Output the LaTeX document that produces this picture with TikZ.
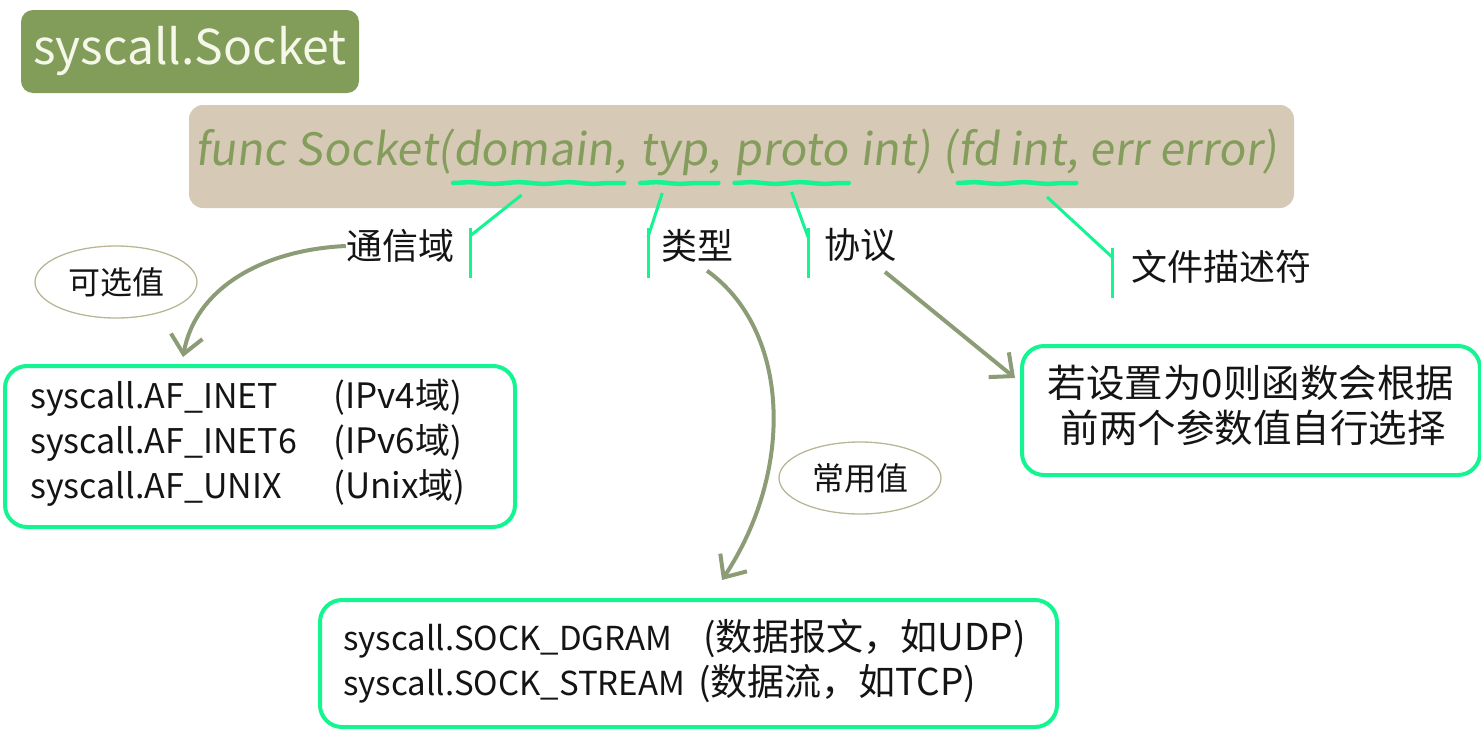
\documentclass[tikz,border=0pt]{standalone}
\usepackage{fontspec}
\newfontfamily\cjk{Noto Sans CJK SC}
\newfontfamily\cjksl[FakeSlant=0.12]{Noto Sans CJK SC}
\usetikzlibrary{arrows.meta,decorations.pathmorphing,calc,shapes.geometric}
\definecolor{titlefill}{RGB}{130,157,90}
\definecolor{titletext}{RGB}{245,248,232}
\definecolor{sigfill}{RGB}{214,201,181}
\definecolor{sigtext}{RGB}{132,157,92}
\definecolor{brightg}{RGB}{20,245,145}
\definecolor{arrowc}{RGB}{140,156,118}
\definecolor{ellc}{RGB}{185,182,150}
\definecolor{ink}{RGB}{20,20,20}
\begin{document}
\begin{tikzpicture}[x=1pt,y=-1pt,
  sigpart/.style={inner sep=0pt, anchor=base west, text=sigtext, font=\cjksl\fontsize{44.6}{50}\selectfont},
  lbl/.style={inner sep=0pt, text=ink, font=\cjk\fontsize{36}{40}\selectfont},
  boxtext/.style={inner sep=0pt, anchor=base west, text=ink, font=\cjk\fontsize{34}{40}\selectfont},
  valbox/.style={draw=brightg, line width=4pt, rounded corners=22pt, fill=white, inner sep=0pt},
  uline/.style={draw=brightg, line width=4.5pt, line cap=round, decorate, decoration={snake, amplitude=0.8pt, segment length=50pt}},
  conn/.style={draw=brightg, line width=3pt},
  bigarrow/.style={draw=arrowc, line width=4pt, -{Straight Barb[length=18pt,width=32pt]}},
  oval/.style={draw=ellc, line width=1.3pt, ellipse, inner sep=0pt, minimum width=162pt, minimum height=72pt, text=ink, font=\cjk\fontsize{32}{36}\selectfont}
]
\useasboundingbox (0,0) rectangle (1481,731);

% title
\node[fill=titlefill, rounded corners=12pt, minimum width=338pt, minimum height=83pt, inner sep=0pt,
      text=titletext, font=\cjk\fontsize{48}{52}\selectfont] (title) at (190,51.5) {syscall.Socket};

% signature box
\node[fill=sigfill, rounded corners=14pt, minimum width=1105pt, minimum height=103pt, inner sep=0pt] (sig) at (741.5,156.5) {};
\node[sigpart] (s1) at (195,165) {func Socket(};
\node[sigpart] (sdom) at (s1.base east) {domain};
\node[sigpart] (s2) at (sdom.base east) {,\kern0.3em};
\node[sigpart] (styp) at (s2.base east) {typ};
\node[sigpart] (s3) at (styp.base east) {,\kern0.3em};
\node[sigpart] (spro) at (s3.base east) {proto};
\node[sigpart] (s4) at (spro.base east) {\kern0.25em int)\kern0.25em (};
\node[sigpart] (sfd) at (s4.base east) {fd int};
\node[sigpart] (s5) at (sfd.base east) {,\kern0.25em err error)};

% underlines
\draw[uline] ($(sdom.base west)+(0,18)$) -- ($(sdom.base east)+(10,18)$);
\draw[uline] ($(styp.base west)+(0,18)$) -- ($(styp.base east)+(10,18)$);
\draw[uline] ($(spro.base west)+(0,18)$) -- ($(spro.base east)+(0,18)$);
\draw[uline] ($(sfd.base west)+(0,18)$) -- ($(sfd.base east)+(10,18)$);

% labels
\node[lbl] (ldom) at (400,246) {通信域};
\node[lbl] (ltyp) at (697,246) {类型};
\node[lbl] (lpro) at (860,245) {协议};
\node[lbl] (lfd) at (1221,267) {文件描述符};

% connectors
\coordinate (vd1) at (470,228); \coordinate (vd2) at (470,278); \coordinate (vdj) at (470,236);
\coordinate (vt1) at (648,228); \coordinate (vt2) at (648,278); \coordinate (vtj) at (648,237);
\coordinate (vp1) at (808,228); \coordinate (vp2) at (808,278); \coordinate (vpj) at (808,237);
\coordinate (vf1) at (1112,248); \coordinate (vf2) at (1112,298); \coordinate (vfj) at (1112,257);
\draw[conn] (vd1) -- (vd2);
\draw[conn] (vt1) -- (vt2);
\draw[conn] (vp1) -- (vp2);
\draw[conn] (vf1) -- (vf2);
\draw[conn] ($(sdom.base)+(-12,30)$) -- (vdj);
\draw[conn] ($(styp.base)+(-12,28)$) -- (vtj);
\draw[conn] ($(spro.base)+(0,27)$) -- (vpj);
\draw[conn] ($(sfd.base)+(35,32)$) -- (vfj);

% ovals
\node[oval] (o1) at (116,282) {可选值};
\node[oval] (o2) at (860,478) {常用值};

% AF box
\node[valbox, minimum width=510pt, minimum height=161pt] (afbox) at (260,446.5) {};
\node[boxtext] (af1) at (30,408) {syscall.AF\_INET};
\node[boxtext, font=\cjk\fontsize{35}{40}\selectfont] (af1b) at (333,408) {(IPv4域)};
\node[boxtext] (af2) at (30,453) {syscall.AF\_INET6};
\node[boxtext, font=\cjk\fontsize{35}{40}\selectfont] (af2b) at (333,453) {(IPv6域)};
\node[boxtext] (af3) at (30,498) {syscall.AF\_UNIX};
\node[boxtext, font=\cjk\fontsize{35}{40}\selectfont] (af3b) at (333,498) {(Unix域)};

% SOCK box
\node[valbox, minimum width=737pt, minimum height=127pt] (sockbox) at (688.5,663.5) {};
\node[boxtext, font=\cjk\fontsize{33}{40}\selectfont] (sk1) at (343,650) {syscall.SOCK\_DGRAM};
\node[boxtext, font=\cjk\fontsize{37}{40}\selectfont] (sk1b) at (703,650) {(数据报文，如UDP)};
\node[boxtext, font=\cjk\fontsize{33}{40}\selectfont] (sk2) at (343,695) {syscall.SOCK\_STREAM};
\node[boxtext, font=\cjk\fontsize{37}{40}\selectfont] (sk2b) at (698,695) {(数据流，如TCP)};

% right box
\node[valbox, minimum width=458pt, minimum height=129pt] (rbox) at (1251,410.5) {};
\node[lbl, font=\cjk\fontsize{38.5}{44}\selectfont] (r1) at (1251,383) {若设置为0则函数会根据};
\node[lbl, font=\cjk\fontsize{38.5}{44}\selectfont] (r2) at (1253,428) {前两个参数值自行选择};

% arrows
\coordinate (a1end) at (183,357);
\coordinate (a2end) at (722,580);
\coordinate (a3end) at (1015,378);
\draw[bigarrow] (ldom.west) .. controls (260,250) and (195,290) .. (a1end);
\draw[bigarrow] ($(ltyp.south)+(10,8)$) .. controls (790,330) and (795,470) .. (a2end);
\draw[bigarrow] ($(lpro.south)+(25,10)$) -- (a3end);
\end{tikzpicture}
\end{document}
